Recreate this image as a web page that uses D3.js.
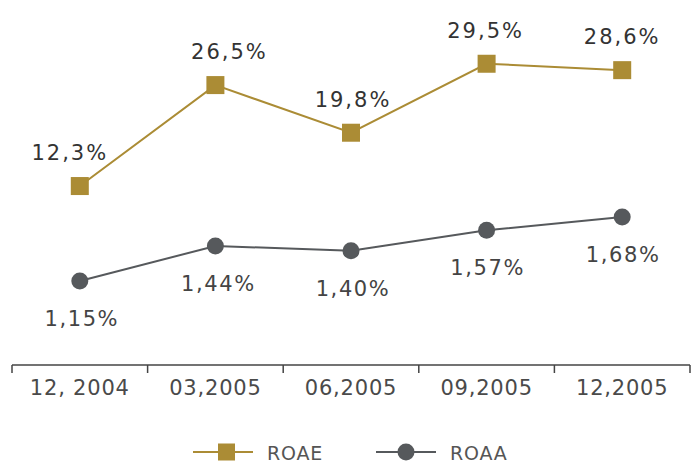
<!DOCTYPE html>
<html>
<head>
<meta charset="utf-8">
<script src="https://cdn.jsdelivr.net/npm/d3@7"></script>
<style>
  html, body { margin: 0; padding: 0; background: #fff; }
  svg { display: block; }
  text { font-family: "DejaVu Sans", sans-serif; }
</style>
</head>
<body>
<svg id="chart" width="691" height="463"></svg>
<script>
// Periods on the horizontal axis
const periods = ["12, 2004", "03,2005", "06,2005", "09,2005", "12,2005"];
// Return on average equity, %
const roae = [12.3, 26.5, 19.8, 29.5, 28.6];
// Return on average assets, %
const roaa = [1.15, 1.44, 1.40, 1.57, 1.68];
const seriesNames = ["ROAE", "ROAA"];

const fmt1 = v => d3.format(".1f")(v).replace(".", ",") + "%";
const fmt2 = v => d3.format(".2f")(v).replace(".", ",") + "%";

const gold = "#ab8c35";
const grey = "#56595c";

const svg = d3.select("#chart");

const x = d3.scaleBand().domain(periods).range([12, 690]);
const cx = p => x(p) + x.bandwidth() / 2;

// Each series sits on its own vertical scale
const yE = d3.scaleLinear().domain([0, 30]).range([273.5, 60.2]);
const yA = d3.scaleLinear().domain([1, 1.7]).range([299.1, 214.6]);

// Category axis
const axisY = 365;
const axis = d3.axisBottom(x).tickSize(0).tickPadding(0);
const gAxis = svg.append("g").attr("transform", `translate(0,${axisY})`).call(axis);
gAxis.select(".domain").attr("stroke", "#444").attr("stroke-width", 1.3).attr("d", `M12,0H690`);
gAxis.selectAll(".tick text")
  .attr("y", 30).attr("dy", 0)
  .attr("fill", "#4a4a4a").style("font-size", "21px")
  .style("letter-spacing", "0.8px");
// separator ticks between categories
gAxis.selectAll("line.sep")
  .data(d3.range(periods.length + 1))
  .join("line").attr("class", "sep")
  .attr("x1", i => i < periods.length ? x(periods[i]) : x.range()[1])
  .attr("x2", i => i < periods.length ? x(periods[i]) : x.range()[1])
  .attr("y1", 0).attr("y2", 8)
  .attr("stroke", "#444").attr("stroke-width", 1.5);

const line = (data, y) => d3.line().x((d, i) => cx(periods[i])).y(d => y(d))(data);

// ROAE
svg.append("path").attr("d", line(roae, yE))
  .attr("fill", "none").attr("stroke", gold).attr("stroke-width", 2);
svg.selectAll("rect.roae").data(roae).join("rect").attr("class", "roae")
  .attr("x", (d, i) => cx(periods[i]) - 9).attr("y", d => yE(d) - 9)
  .attr("width", 18).attr("height", 18).attr("fill", gold);
const eDx = [-10, 14, 2, -1, 0];
svg.selectAll("text.roae").data(roae).join("text").attr("class", "roae")
  .attr("x", (d, i) => cx(periods[i]) + eDx[i]).attr("y", d => yE(d) - 26)
  .attr("text-anchor", "middle").attr("fill", "#333")
  .style("font-size", "21px").style("letter-spacing", "2px")
  .text(fmt1);

// ROAA
svg.append("path").attr("d", line(roaa, yA))
  .attr("fill", "none").attr("stroke", grey).attr("stroke-width", 2);
svg.selectAll("circle.roaa").data(roaa).join("circle").attr("class", "roaa")
  .attr("cx", (d, i) => cx(periods[i])).attr("cy", d => yA(d))
  .attr("r", 8.5).attr("fill", grey);
const aDx = [2, 3, 2, 1, 1];
svg.selectAll("text.roaa").data(roaa).join("text").attr("class", "roaa")
  .attr("x", (d, i) => cx(periods[i]) + aDx[i]).attr("y", d => yA(d) + 45)
  .attr("text-anchor", "middle").attr("fill", "#444")
  .style("font-size", "21px").style("letter-spacing", "1.6px")
  .text(fmt2);

// Legend
const legY = 452;
const leg = svg.append("g");
const legItems = [
  { name: seriesNames[0], x0: 193, color: gold, shape: "rect" },
  { name: seriesNames[1], x0: 376, color: grey, shape: "circle" }
];
legItems.forEach(it => {
  leg.append("line").attr("x1", it.x0).attr("x2", it.x0 + 60)
    .attr("y1", legY).attr("y2", legY).attr("stroke", it.color).attr("stroke-width", 2);
  if (it.shape === "rect") {
    leg.append("rect").attr("x", it.x0 + 25).attr("y", legY - 8.5)
      .attr("width", 17).attr("height", 17).attr("fill", it.color);
  } else {
    leg.append("circle").attr("cx", it.x0 + 30).attr("cy", legY).attr("r", 8.5).attr("fill", it.color);
  }
  leg.append("text").attr("x", it.x0 + 74).attr("y", legY + 8)
    .attr("fill", "#555").style("font-size", "19px").style("letter-spacing", "0.8px")
    .text(it.name);
});
</script>
</body>
</html>
